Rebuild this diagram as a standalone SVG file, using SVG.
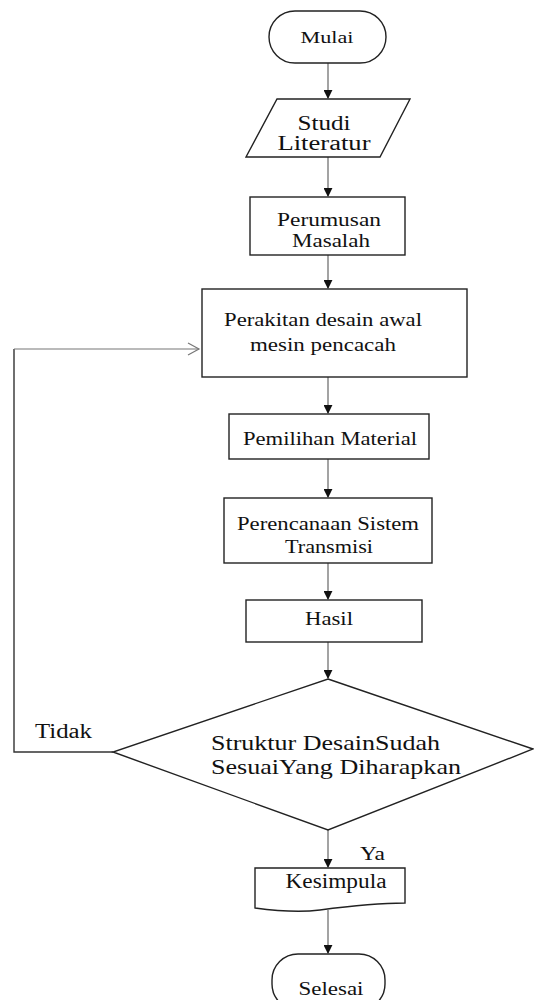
<svg xmlns="http://www.w3.org/2000/svg" width="534" height="1000" viewBox="0 0 534 1000">
<style>
.shape{fill:#fff;stroke:#222;stroke-width:1.4}
text{font-family:'Liberation Serif','DejaVu Serif',serif;fill:#111}
.c{text-anchor:middle}
.flow{stroke:#999;stroke-width:1.8;fill:none;marker-end:url(#ah)}
</style>
<defs>
<marker id="ah" viewBox="0 0 10 10" refX="9" refY="5" markerWidth="5" markerHeight="5" orient="auto" markerUnits="strokeWidth">
<path d="M0,0 L10,5 L0,10 Z" fill="#111"/>
</marker>
</defs>
<rect width="534" height="1000" fill="#fff"/>
<g id="connectors">
<line class="flow" x1="328" y1="63" x2="328" y2="98"/>
<line class="flow" x1="328" y1="157" x2="328" y2="196"/>
<line class="flow" x1="328" y1="255" x2="328" y2="288"/>
<line class="flow" x1="328" y1="377" x2="328" y2="413"/>
<line class="flow" x1="328" y1="459" x2="328" y2="497"/>
<line class="flow" x1="328" y1="563" x2="328" y2="599"/>
<line class="flow" x1="328" y1="642" x2="328" y2="678"/>
<line class="flow" x1="328" y1="830" x2="328" y2="867"/>
<line class="flow" x1="328" y1="910" x2="328" y2="953"/>
<polyline points="113,752 14,752 14,349" fill="none" stroke="#333" stroke-width="1.4"/>
<line x1="14" y1="349" x2="199" y2="349" stroke="#777" stroke-width="1.2"/>
<polyline points="188,343 199,349 188,355" fill="none" stroke="#777" stroke-width="1.2"/>
<text font-family="Liberation Serif, serif" x="35" y="738" font-size="20" textLength="57" lengthAdjust="spacingAndGlyphs">Tidak</text>
<text font-family="Liberation Serif, serif" x="360" y="860" font-size="19" textLength="25" lengthAdjust="spacingAndGlyphs">Ya</text>
</g>
<g id="mulai">
<rect class="shape" x="269" y="11" width="117" height="52" rx="26"/>
<text class="c" font-family="Liberation Serif, serif" x="327" y="43" font-size="17" textLength="53" lengthAdjust="spacingAndGlyphs">Mulai</text>
</g>
<g id="studi">
<polygon class="shape" points="277,99 410,99 380,157 246,157"/>
<text class="c" font-family="Liberation Serif, serif" x="324" y="130" font-size="20" textLength="53" lengthAdjust="spacingAndGlyphs">Studi</text>
<text class="c" font-family="Liberation Serif, serif" x="324" y="150" font-size="20" textLength="93" lengthAdjust="spacingAndGlyphs">Literatur</text>
</g>
<g id="perumusan">
<rect class="shape" x="250" y="197" width="155" height="58"/>
<text class="c" font-family="Liberation Serif, serif" x="329" y="226" font-size="18" textLength="104" lengthAdjust="spacingAndGlyphs">Perumusan</text>
<text class="c" font-family="Liberation Serif, serif" x="331" y="247" font-size="18" textLength="78" lengthAdjust="spacingAndGlyphs">Masalah</text>
</g>
<g id="perakitan">
<rect class="shape" x="202" y="289" width="265" height="88"/>
<text class="c" font-family="Liberation Serif, serif" x="323" y="326" font-size="19" textLength="198" lengthAdjust="spacingAndGlyphs">Perakitan desain awal</text>
<text class="c" font-family="Liberation Serif, serif" x="323" y="351" font-size="19" textLength="146" lengthAdjust="spacingAndGlyphs">mesin pencacah</text>
</g>
<g id="pemilihan">
<rect class="shape" x="229" y="414" width="200" height="45"/>
<text class="c" font-family="Liberation Serif, serif" x="330" y="445" font-size="18" textLength="174" lengthAdjust="spacingAndGlyphs">Pemilihan Material</text>
</g>
<g id="perencanaan">
<rect class="shape" x="224" y="498" width="208" height="65"/>
<text class="c" font-family="Liberation Serif, serif" x="328" y="530" font-size="18" textLength="182" lengthAdjust="spacingAndGlyphs">Perencanaan Sistem</text>
<text class="c" font-family="Liberation Serif, serif" x="329" y="553" font-size="18" textLength="88" lengthAdjust="spacingAndGlyphs">Transmisi</text>
</g>
<g id="hasil">
<rect class="shape" x="246" y="600" width="176" height="42"/>
<text class="c" font-family="Liberation Serif, serif" x="329" y="625" font-size="18" textLength="48" lengthAdjust="spacingAndGlyphs">Hasil</text>
</g>
<g id="keputusan">
<polygon class="shape" points="328,679 533,749 328,830 113,752"/>
<text font-family="Liberation Serif, serif" x="211" y="750" font-size="21" textLength="229" lengthAdjust="spacingAndGlyphs">Struktur DesainSudah</text>
<text font-family="Liberation Serif, serif" x="211" y="774" font-size="21" textLength="250" lengthAdjust="spacingAndGlyphs">SesuaiYang Diharapkan</text>
</g>
<g id="kesimpulan">
<path class="shape" d="M255,868 L405,868 L405,903 C375,903 350,906 320,910 C295,913 270,910 255,908 Z"/>
<text class="c" font-family="Liberation Serif, serif" x="336" y="888" font-size="20" textLength="101" lengthAdjust="spacingAndGlyphs">Kesimpula</text>
</g>
<g id="selesai">
<rect class="shape" x="272" y="954" width="113" height="56" rx="26"/>
<text class="c" font-family="Liberation Serif, serif" x="331" y="995" font-size="18" textLength="65" lengthAdjust="spacingAndGlyphs">Selesai</text>
</g>
</svg>
